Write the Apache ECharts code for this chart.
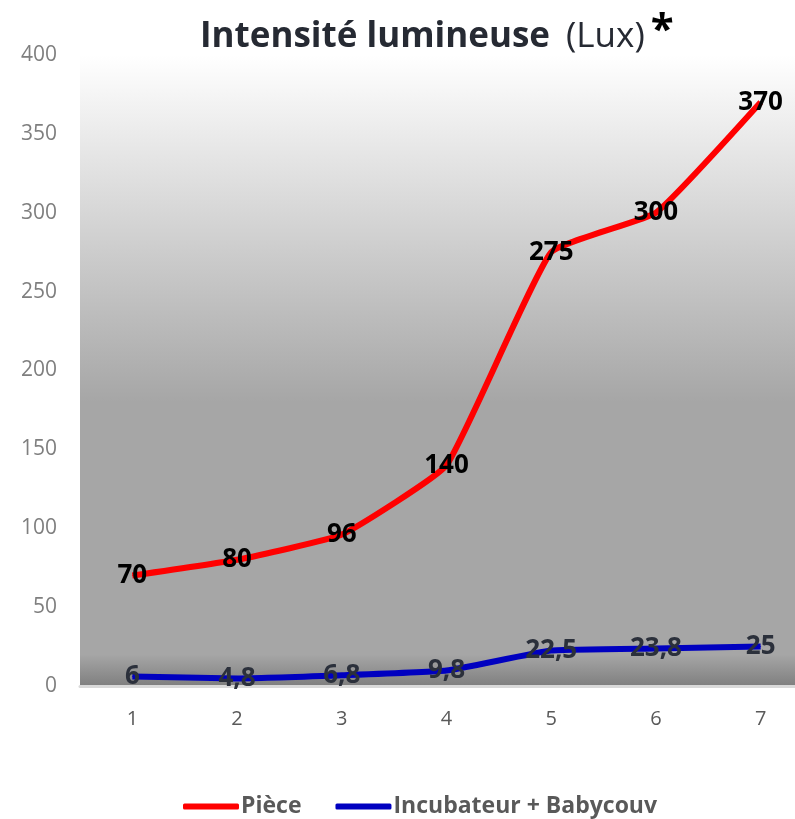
<!DOCTYPE html>
<html><head><meta charset="utf-8">
<script src="https://cdn.jsdelivr.net/npm/echarts@6/dist/echarts.min.js"></script>
<style>html,body{margin:0;padding:0;background:#fff;overflow:hidden}#c{width:795px;height:819px}</style>
</head><body><div id="c"></div>
<script>
const categories = ['1','2','3','4','5','6','7'];
const piece = [70, 80, 96, 140, 275, 300, 370];
const incubateur = [6, 4.8, 6.8, 9.8, 22.5, 23.8, 25];
const seriesNames = ['Pièce', 'Incubateur + Babycouv'];
const yTicks = {min: 0, max: 400, interval: 50};

const fam = '"Open Sans", "DejaVu Sans", sans-serif';
const chart = echarts.init(document.getElementById('c'));
const fmt = p => String(p.value).replace('.', ',');
chart.setOption({
  animation: false,
  title: {
    text: '{b|Intensité lumineuse}{n|(Lux)}{s|*}',
    left: 195, top: 5,
    textStyle: {
      rich: {
        b: {fontFamily: fam, fontSize: 35, fontWeight: 'bold', color: '#262a33', padding: [0,16,0,0]},
        n: {fontFamily: fam, fontSize: 35, fontWeight: 'normal', color: '#262a33'},
        s: {fontFamily: fam, fontSize: 42, fontWeight: 'bold', color: '#000', verticalAlign: 'top', padding: [0,0,12,6]}
      }
    }
  },
  grid: {
    left: 80, width: 733, top: 55, height: 631,
    outerBoundsMode: 'none', containLabel: false,
    show: true, borderWidth: 0,
    backgroundColor: {
      type: 'linear', x: 0, y: 0, x2: 0, y2: 1,
      colorStops: [
        {offset: 0, color: '#ffffff'},
        {offset: 0.55, color: '#a6a6a6'},
        {offset: 0.95, color: '#a6a6a6'},
        {offset: 1, color: '#7f7f7f'}
      ]
    }
  },
  legend: {
    bottom: -4, left: 178,
    itemWidth: 56, itemHeight: 6, itemGap: 34,
    icon: 'roundRect',
    textStyle: {fontFamily: fam, fontSize: 23, fontWeight: 'bold', color: '#595959', padding: [0,0,0,-3]},
    data: seriesNames
  },
  xAxis: {
    type: 'category', data: categories, boundaryGap: true,
    axisLine: {lineStyle: {color: '#d9d9d9', width: 3}},
    axisTick: {show: false},
    axisLabel: {fontFamily: fam, fontSize: 20, color: '#595959', margin: 23}
  },
  yAxis: {
    type: 'value', min: yTicks.min, max: yTicks.max, interval: yTicks.interval,
    axisLine: {show: false}, axisTick: {show: false}, splitLine: {show: false},
    axisLabel: {fontFamily: fam, fontSize: 21, color: '#7f7f7f', margin: 23}
  },
  series: [
    {
      name: seriesNames[0], type: 'line', data: piece, smooth: 0.12,
      symbol: 'circle', symbolSize: 1, showSymbol: true,
      lineStyle: {color: '#ff0000', width: 6}, itemStyle: {color: '#ff0000'},
      label: {show: true, position: 'inside', formatter: fmt, fontFamily: fam, fontSize: 26, fontWeight: 'bold', color: '#000'}
    },
    {
      name: seriesNames[1], type: 'line', data: incubateur, smooth: 0.12,
      symbol: 'circle', symbolSize: 1, showSymbol: true,
      lineStyle: {color: '#0000c0', width: 6}, itemStyle: {color: '#0000c0'},
      label: {show: true, position: 'inside', formatter: fmt, fontFamily: fam, fontSize: 26, fontWeight: 'bold', color: '#2b303b'}
    }
  ]
});
</script></body></html>
